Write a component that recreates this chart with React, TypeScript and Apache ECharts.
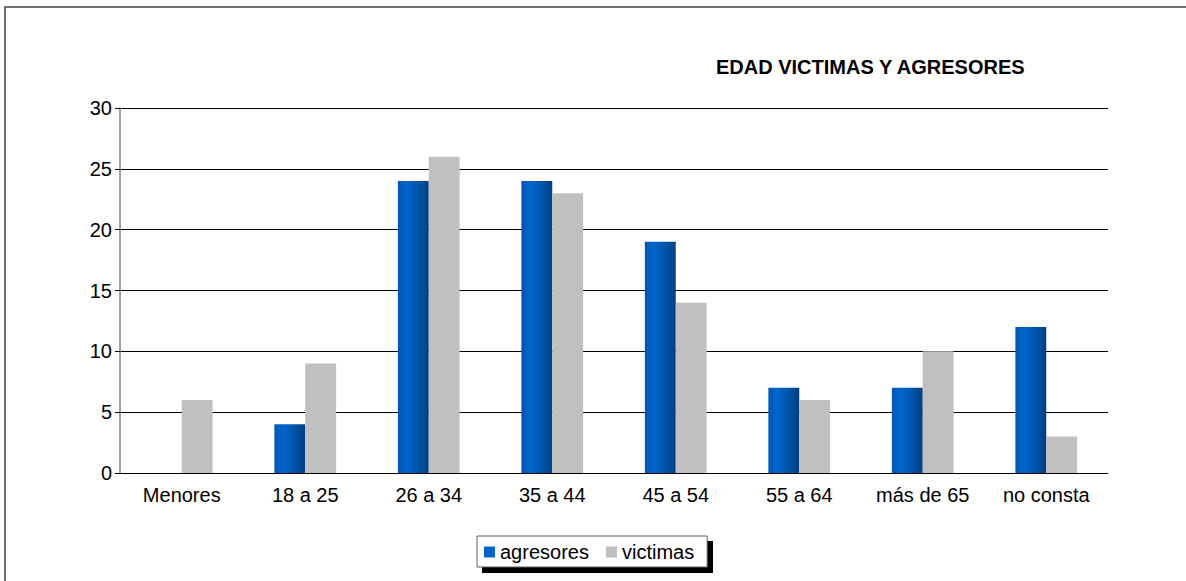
import React, { useEffect, useRef } from "react";
import * as echarts from "echarts";

const categories = ["Menores", "18 a 25", "26 a 34", "35 a 44", "45 a 54", "55 a 64", "más de 65", "no consta"];
const agresores = [0, 4, 24, 24, 19, 7, 7, 12];
const victimas = [6, 9, 26, 23, 14, 6, 10, 3];
const yTicks = { min: 0, max: 30, interval: 5 };
const titleText = "EDAD VICTIMAS Y AGRESORES";

export default function App() {
  const ref = useRef<HTMLDivElement>(null);
  useEffect(() => {
    if (!ref.current) return;
    const chart = echarts.init(ref.current, null, { renderer: "svg" });
    const font = "'Liberation Sans', Arial, sans-serif";
    const blue = new echarts.graphic.LinearGradient(0, 0, 1, 0, [
      { offset: 0, color: "#0056b3" },
      { offset: 0.3, color: "#0066cc" },
      { offset: 0.7, color: "#0052a6" },
      { offset: 1, color: "#003e7e" },
    ]);
    chart.setOption({
      animation: false,
      backgroundColor: "#ffffff",
      title: {
        text: titleText,
        left: 716,
        top: 57,
        padding: 0,
        textStyle: { fontFamily: font, fontSize: 20, fontWeight: "bold", color: "#000" },
      },
      graphic: [
        {
          type: "rect",
          shape: { x: 5, y: 7, width: 1250, height: 650 },
          style: { fill: "none", stroke: "#404040", lineWidth: 1.5 },
          silent: true,
          z: -10,
        },
        {
          type: "rect",
          shape: { x: 482, y: 541, width: 231, height: 32 },
          style: { fill: "#000", stroke: "none" },
          silent: true,
          z: 0,
        },
      ],
      legend: {
        left: 477,
        top: 536,
        padding: [6, 13, 5, 7],
        itemWidth: 11,
        itemHeight: 11,
        itemGap: 17,
        backgroundColor: "#ffffff",
        borderColor: "#606060",
        borderWidth: 1,
        z: 5,
        textStyle: { fontFamily: font, fontSize: 20, color: "#000" },
        data: [
          { name: "agresores", icon: "rect", itemStyle: { color: "#0066cc" } },
          { name: "victimas", icon: "rect", itemStyle: { color: "#c0c0c0" } },
        ],
      },
      grid: { left: 120, right: 78, top: 108, bottom: 108, containLabel: false },
      xAxis: {
        type: "category",
        data: categories,
        axisLine: { show: true, lineStyle: { color: "#000", width: 1 } },
        axisTick: { show: false },
        axisLabel: { fontFamily: font, fontSize: 20, color: "#000", margin: 12 },
      },
      yAxis: {
        type: "value",
        min: yTicks.min,
        max: yTicks.max,
        interval: yTicks.interval,
        axisLine: { show: true, lineStyle: { color: "#808080", width: 1.5 } },
        axisTick: { show: true, length: 5, lineStyle: { color: "#000" } },
        axisLabel: { fontFamily: font, fontSize: 20, color: "#000", margin: 8 },
        splitLine: { show: true, lineStyle: { color: "#000", width: 1 } },
      },
      series: [
        {
          name: "agresores",
          type: "bar",
          data: agresores,
          barGap: "0%",
          barCategoryGap: "50%",
          itemStyle: { color: blue },
        },
        {
          name: "victimas",
          type: "bar",
          data: victimas,
          barGap: "0%",
          barCategoryGap: "50%",
          itemStyle: { color: "#c0c0c0" },
        },
      ],
    });
    return () => chart.dispose();
  }, []);
  return (
    <div
      ref={ref}
      style={{ position: "fixed", left: 0, top: 0, width: 1186, height: 581 }}
    />
  );
}
